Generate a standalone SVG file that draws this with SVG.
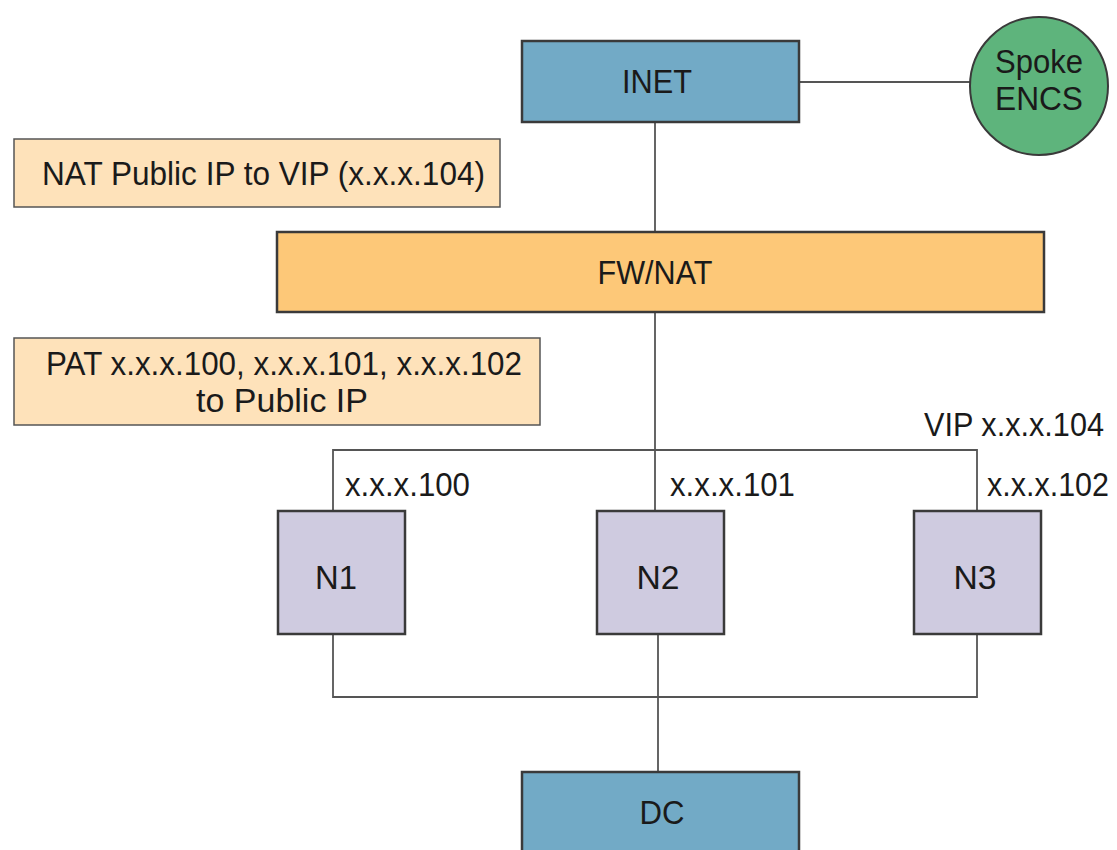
<svg xmlns="http://www.w3.org/2000/svg" width="1117" height="850" viewBox="0 0 1117 850">
<style>
  .box { stroke: #3a3a3a; stroke-width: 2.5; }
  .blue { fill: #72aac6; }
  .orange { fill: #fdc878; }
  .note { fill: #fee2ba; stroke: #555; stroke-width: 1.5; }
  .node { fill: #cfcbe0; }
  .green { fill: #5eb47c; stroke: #3a3a3a; stroke-width: 2; }
  .conn { stroke: #555; stroke-width: 1.8; fill: none; }
  text { font-family: "Liberation Sans", Arial, Helvetica, sans-serif; font-size: 33px; fill: #1a1a1a; }
  .c { text-anchor: middle; }
</style>
<rect width="1117" height="850" fill="#ffffff"/>
<g id="connectors">
  <line class="conn" x1="655" y1="122" x2="655" y2="232"/>
  <line class="conn" x1="799" y1="82" x2="970" y2="82"/>
  <line class="conn" x1="655" y1="312" x2="655" y2="511"/>
  <polyline class="conn" points="333,511 333,450 977,450 977,511"/>
  <polyline class="conn" points="333,634 333,697 977,697 977,634"/>
  <line class="conn" x1="658" y1="634" x2="658" y2="772"/>
</g>
<g id="inet">
  <rect class="box blue" x="522" y="41" width="277" height="81"/>
  <text class="c" x="657" y="93" textLength="70" lengthAdjust="spacingAndGlyphs">INET</text>
</g>
<g id="spoke">
  <circle class="green" cx="1039" cy="86" r="69"/>
  <text class="c" x="1039" y="73" textLength="88" lengthAdjust="spacingAndGlyphs">Spoke</text>
  <text class="c" x="1039" y="110" textLength="88" lengthAdjust="spacingAndGlyphs">ENCS</text>
</g>
<g id="note-nat">
  <rect class="note" x="14" y="139" width="486" height="68"/>
  <text x="42" y="185" textLength="443" lengthAdjust="spacingAndGlyphs">NAT Public IP to VIP (x.x.x.104)</text>
</g>
<g id="fwnat">
  <rect class="box orange" x="277" y="232" width="767" height="80"/>
  <text class="c" x="655" y="284" textLength="115" lengthAdjust="spacingAndGlyphs">FW/NAT</text>
</g>
<g id="note-pat">
  <rect class="note" x="14" y="338" width="526" height="87"/>
  <text x="46" y="375" textLength="476" lengthAdjust="spacingAndGlyphs">PAT x.x.x.100, x.x.x.101, x.x.x.102</text>
  <text x="196" y="412" textLength="172" lengthAdjust="spacingAndGlyphs">to Public IP</text>
</g>
<g id="labels">
  <text x="924" y="436" textLength="180" lengthAdjust="spacingAndGlyphs">VIP x.x.x.104</text>
  <text x="345" y="496" textLength="125" lengthAdjust="spacingAndGlyphs">x.x.x.100</text>
  <text x="670" y="496" textLength="125" lengthAdjust="spacingAndGlyphs">x.x.x.101</text>
  <text x="987" y="496" textLength="122" lengthAdjust="spacingAndGlyphs">x.x.x.102</text>
</g>
<g id="n1">
  <rect class="box node" x="278" y="511" width="127" height="123"/>
  <text class="c" x="336" y="589" textLength="42" lengthAdjust="spacingAndGlyphs">N1</text>
</g>
<g id="n2">
  <rect class="box node" x="597" y="511" width="127" height="123"/>
  <text class="c" x="658" y="589" textLength="43" lengthAdjust="spacingAndGlyphs">N2</text>
</g>
<g id="n3">
  <rect class="box node" x="914" y="511" width="127" height="123"/>
  <text class="c" x="975" y="589" textLength="43" lengthAdjust="spacingAndGlyphs">N3</text>
</g>
<g id="dc">
  <rect class="box blue" x="522" y="772" width="277" height="100"/>
  <text class="c" x="662" y="824" textLength="45" lengthAdjust="spacingAndGlyphs">DC</text>
</g>
</svg>
